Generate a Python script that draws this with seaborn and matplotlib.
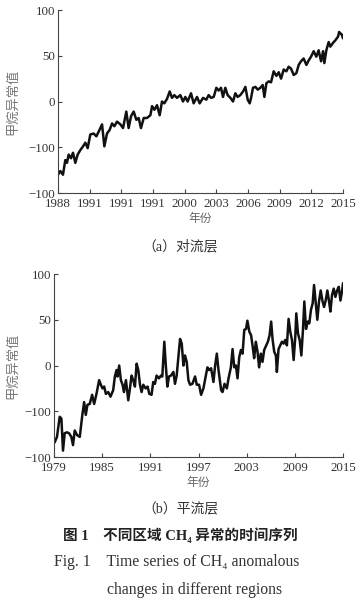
import numpy as np
import pandas as pd
import matplotlib
matplotlib.use("Agg")
import matplotlib.pyplot as plt
import seaborn as sns

# (a) troposphere, 1988-2015
trop_year = [1988.00, 1988.22, 1988.47, 1988.69, 1988.85, 1989.01, 1989.23, 1989.42, 1989.64, 1989.86,
             1990.12, 1990.37, 1990.59, 1990.81, 1991.06, 1991.38, 1991.63, 1991.85, 1992.17, 1992.39,
             1992.64, 1992.89, 1993.12, 1993.34, 1993.59, 1993.91, 1994.16, 1994.47, 1994.69, 1994.92,
             1995.17, 1995.42, 1995.64, 1995.86, 1996.12, 1996.43, 1996.75, 1996.91, 1997.13, 1997.38,
             1997.63, 1997.85, 1998.07, 1998.33, 1998.58, 1998.80, 1999.02, 1999.27, 1999.59, 1999.84,
             2000.06, 2000.28, 2000.60, 2000.85, 2001.17, 2001.42, 2001.74, 2002.05, 2002.27, 2002.50,
             2002.75, 2003.00, 2003.22, 2003.44, 2003.63, 2003.85, 2004.07, 2004.33, 2004.58, 2004.80,
             2005.02, 2005.27, 2005.53, 2005.75, 2005.97, 2006.16, 2006.29, 2006.47, 2006.70, 2006.92,
             2007.17, 2007.39, 2007.55, 2007.74, 2007.96, 2008.18, 2008.43, 2008.69, 2008.91, 2009.13,
             2009.38, 2009.63, 2009.85, 2010.07, 2010.33, 2010.58, 2010.80, 2011.02, 2011.27, 2011.53,
             2011.75, 2011.97, 2012.22, 2012.47, 2012.69, 2012.92, 2013.11, 2013.23, 2013.42, 2013.64,
             2013.80, 2014.05, 2014.28, 2014.53, 2014.63, 2014.89, 2015.00]
trop_val = [-80, -76, -80, -64, -67, -58, -62, -56, -67, -58,
            -53, -49, -45, -51, -36, -35, -38, -33, -25, -49,
            -35, -31, -24, -27, -22, -25, -29, -11, -29, -16,
            -11, -20, -18, -29, -18, -18, -15, -5, -9, -4,
            -15, 0, -2, 3, 11, 4, 7, 4, 7, 0,
            5, 0, 9, -2, 5, -2, 4, 2, 7, 4,
            5, 15, 12, 15, 5, 15, 7, 4, 0, 9,
            5, 7, 11, 16, 2, -2, 4, 15, 16, 13,
            15, 18, 5, 20, 22, 21, 33, 28, 32, 25,
            35, 33, 38, 36, 29, 31, 40, 44, 47, 40,
            45, 49, 55, 49, 56, 44, 55, 42, 56, 65,
            60, 64, 67, 71, 76, 73, 69]

# (b) stratosphere, 1979-2015
strat_year = [1979.00, 1979.08, 1979.37, 1979.71, 1979.92, 1980.12, 1980.33, 1980.62, 1980.87, 1981.16,
              1981.37, 1981.58, 1981.87, 1982.21, 1982.50, 1982.75, 1982.96, 1983.16, 1983.45, 1983.75,
              1984.00, 1984.29, 1984.62, 1984.83, 1985.04, 1985.25, 1985.46, 1985.75, 1986.04, 1986.37,
              1986.58, 1986.79, 1986.91, 1987.12, 1987.33, 1987.54, 1987.71, 1987.96, 1988.25, 1988.46,
              1988.66, 1988.87, 1989.08, 1989.29, 1989.50, 1989.71, 1989.91, 1990.12, 1990.41, 1990.66,
              1990.87, 1991.15, 1991.36, 1991.57, 1991.78, 1992.07, 1992.32, 1992.49, 1992.74, 1992.91,
              1993.12, 1993.32, 1993.57, 1993.87, 1994.07, 1994.28, 1994.49, 1994.70, 1994.91, 1995.12,
              1995.32, 1995.53, 1995.74, 1995.95, 1996.24, 1996.57, 1996.78, 1997.07, 1997.32, 1997.61,
              1997.90, 1998.11, 1998.32, 1998.57, 1998.86, 1999.07, 1999.28, 1999.49, 1999.82, 1999.99,
              2000.24, 2000.53, 2000.74, 2001.03, 2001.24, 2001.45, 2001.66, 2001.86, 2002.07, 2002.28,
              2002.49, 2002.70, 2002.92, 2003.09, 2003.33, 2003.55, 2003.76, 2003.93, 2004.14, 2004.35,
              2004.55, 2004.76, 2004.97, 2005.18, 2005.43, 2005.64, 2005.85, 2006.05, 2006.22, 2006.43,
              2006.64, 2006.76, 2006.97, 2007.18, 2007.39, 2007.60, 2007.81, 2008.01, 2008.22, 2008.43,
              2008.64, 2008.85, 2009.05, 2009.18, 2009.39, 2009.60, 2009.81, 2010.01, 2010.18, 2010.39,
              2010.60, 2010.80, 2011.01, 2011.22, 2011.39, 2011.60, 2011.80, 2012.01, 2012.22, 2012.43,
              2012.64, 2012.84, 2013.05, 2013.26, 2013.43, 2013.63, 2013.84, 2014.05, 2014.26, 2014.47,
              2014.68, 2014.89, 2015.00]
strat_val = [-80, -84, -78, -56, -58, -93, -74, -73, -74, -78,
             -87, -71, -76, -78, -56, -40, -54, -43, -42, -32,
             -42, -31, -16, -21, -25, -23, -31, -29, -34, -27,
             -12, -5, -12, 0, -16, -21, -29, -16, -38, -25,
             -11, -16, -23, 2, -5, -21, -29, -21, -25, -23,
             -31, -32, -18, -20, -11, -14, -11, -12, 26, 2,
             -23, -12, -11, -7, -20, -11, 9, 29, 24, 0,
             11, 4, -16, -21, -20, -12, -21, -21, -32, -25,
             -12, -2, -5, -3, -18, 0, 13, -5, -27, -29,
             -20, -25, -14, -2, 18, -2, 0, -14, 9, 17,
             13, 39, 40, 49, 37, 33, 20, 8, 26, 15,
             -2, 13, 4, 17, 22, 26, 33, 48, 29, 15,
             11, -7, 18, 22, 26, 24, 28, 22, 51, 37,
             28, 6, 31, 57, 35, 28, 11, 39, 70, 40,
             48, 46, 61, 68, 88, 68, 50, 70, 82, 71,
             64, 71, 82, 70, 59, 77, 84, 75, 82, 86,
             71, 82, 90]

trop_xticks = [1988, 1991, 1994, 1997, 2000, 2003, 2006, 2009, 2012, 2015]
trop_xlabels = ["1988", "1991", "1991", "1991", "2000", "2003", "2006", "2009", "2012", "2015"]
strat_xticks = [1979, 1985, 1991, 1997, 2003, 2009, 2015]
strat_xlabels = ["1979", "1985", "1991", "1997", "2003", "2009", "2015"]
yticks = [-100, -50, 0, 50, 100]
ylabels = ["\u2212100", "\u2212100", "0", "50", "100"]

sns.set_style("ticks")
plt.rcParams["font.family"] = ["Liberation Serif", "Noto Sans CJK SC", "DejaVu Sans"]
cjk = ["Noto Sans CJK SC", "DejaVu Sans"]
txt = "#333333"

fig = plt.figure(figsize=(3.61, 6.0), dpi=100)
ax1 = fig.add_axes([0.1607, 0.6783, 0.7895, 0.305])
ax2 = fig.add_axes([0.1496, 0.2383, 0.8006, 0.305])

df1 = pd.DataFrame({"year": trop_year, "val": trop_val})
df2 = pd.DataFrame({"year": strat_year, "val": strat_val})
sns.lineplot(data=df1, x="year", y="val", ax=ax1, color="#111111", linewidth=1.8)
sns.lineplot(data=df2, x="year", y="val", ax=ax2, color="#111111", linewidth=1.8)

panels = [(ax1, trop_xticks, trop_xlabels, 1988, 2015, -0.135),
          (ax2, strat_xticks, strat_xlabels, 1979, 2015, -0.12)]
for ax, xt, xl, x0, x1, ylx in panels:
    ax.set_xlim(x0, x1)
    ax.set_ylim(-100, 100)
    ax.set_xticks(xt)
    ax.set_xticklabels(xl)
    ax.set_yticks(yticks)
    ax.set_yticklabels(ylabels)
    ax.tick_params(direction="in", length=3, width=0.8, colors="#444444",
                   labelsize=9.3, labelcolor=txt)
    ax.tick_params(axis="x", pad=3.5)
    ax.tick_params(axis="y", pad=2)
    for s in ["top", "right"]:
        ax.spines[s].set_visible(False)
    for s in ["left", "bottom"]:
        ax.spines[s].set_color("#444444")
        ax.spines[s].set_linewidth(0.8)
    ax.set_xlabel("年份", family=cjk, fontsize=8.5, color="#666666")
    ax.xaxis.set_label_coords(0.5, -0.105)
    ax.set_ylabel("甲烷异常值", family=cjk, fontsize=9.5, color="#777777")
    ax.yaxis.set_label_coords(ylx, 0.5)

fig.text(0.5, 1 - 247 / 600, "（a）对流层", ha="center", va="center", fontsize=10, color=txt)
fig.text(0.5, 1 - 510 / 600, "（b）平流层", ha="center", va="center", fontsize=10, color=txt)
fig.text(0.5, 1 - 535 / 600, "图 1    不同区域 CH\u2084 异常的时间序列", ha="center", va="center",
         fontsize=10.5, fontweight="bold", color="#222222")
fig.text(0.15, 1 - 562 / 600, "Fig. 1    Time series of CH\u2084 anomalous", ha="left", va="center",
         fontsize=11.3, color=txt)
fig.text(0.296, 1 - 590 / 600, "changes in different regions", ha="left", va="center",
         fontsize=11.3, color=txt)

fig.savefig("out.png", dpi=100)
